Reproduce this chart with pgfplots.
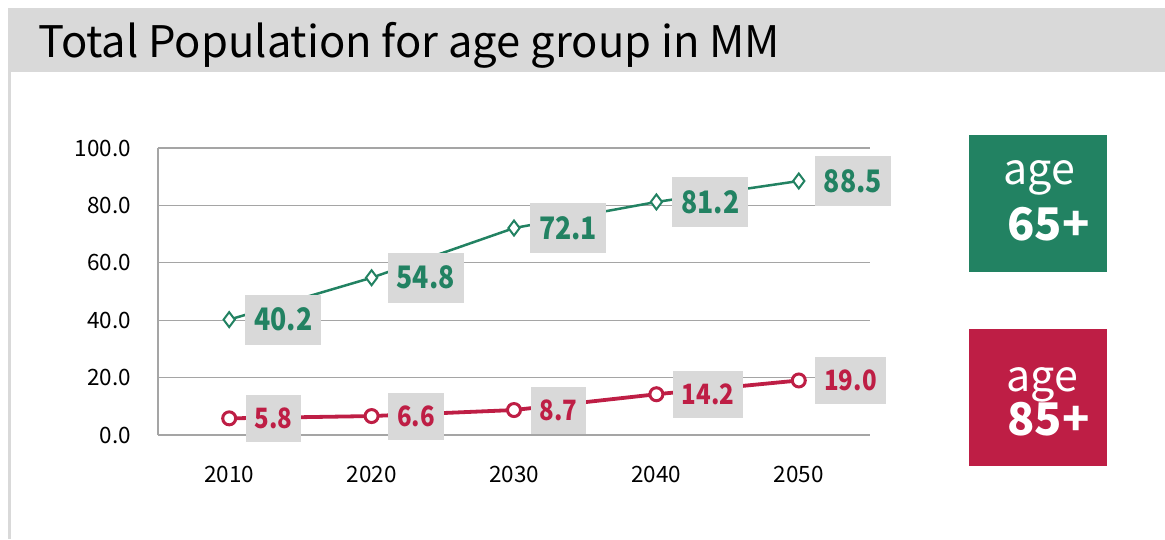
\documentclass[border=0pt]{standalone}
\usepackage{pgfplots}
\pgfplotsset{compat=1.18}
\usepackage{fontspec}
\setmainfont{Noto Sans CJK SC}
\newfontfamily\lblfont[FakeStretch=0.86]{Noto Sans CJK SC}

\definecolor{grn}{RGB}{34,130,98}
\definecolor{rd}{RGB}{190,30,69}
\definecolor{boxgray}{RGB}{217,217,217}
\definecolor{gridgray}{RGB}{165,165,165}

\begin{document}
\begin{tikzpicture}[x=1pt,y=1pt]
\useasboundingbox (0,0) rectangle (1165,539);
% title bar and left rule
\fill[boxgray] (8,467) rectangle (1165,531);
\fill[boxgray] (8,0) rectangle (11,467);
\node[anchor=base west, inner sep=0, font=\fontsize{43.5}{45}\selectfont] at (38,481) {Total Population for age group in MM};

\begin{axis}[
    scale only axis,
    width=712pt, height=287pt,
    at={(158pt,104pt)}, anchor=south west,
    xmin=2005, xmax=2055,
    ymin=0, ymax=100,
    xtick={2010,2020,2030,2040,2050},
    xticklabels={2010,2020,2030,2040,2050},
    ytick={0,20,40,60,80,100},
    axis lines=left,
    axis line style={gridgray, line width=1.3pt, -},
    ymajorgrids=true,
    grid style={gridgray, line width=1.3pt},
    major tick length=0pt,
    tick style={draw=none},
    /pgf/number format/assume math mode=true,
    yticklabel style={font=\fontsize{22.5}{22.5}\selectfont, inner sep=0pt, anchor=east, xshift=-27pt,
        /pgf/number format/.cd, fixed, fixed zerofill, precision=1},
    xticklabel style={font=\fontsize{22.5}{22.5}\selectfont, inner sep=0pt, anchor=north, yshift=-31pt},
    clip=false,
    point meta=y,
    nodes near coords={\pgfmathprintnumber[fixed,fixed zerofill,precision=1]{\pgfplotspointmeta}},
]
\addplot[grn, line width=2.5pt, mark=diamond*, mark size=7.5pt,
    mark options={fill=white, draw=grn, line width=2pt},
    every node near coord/.append style={anchor=west, xshift=15pt, fill=boxgray, text=grn,
        font=\lblfont\bfseries\fontsize{31}{31}\selectfont, inner xsep=9pt, inner ysep=0pt, minimum height=50pt}]
coordinates {(2010,40.2) (2020,54.8) (2030,72.1) (2040,81.2) (2050,88.5)};
\addplot[rd, line width=3.8pt, mark=*, mark size=6.5pt,
    mark options={fill=white, draw=rd, line width=3pt},
    every node near coord/.append style={anchor=west, xshift=15pt, fill=boxgray, text=rd,
        font=\lblfont\bfseries\fontsize{28}{28}\selectfont, inner xsep=9pt, inner ysep=0pt, minimum height=47pt}]
coordinates {(2010,5.8) (2020,6.6) (2030,8.7) (2040,14.2) (2050,19.0)};
\end{axis}

% side keys
\fill[grn] (969,267) rectangle (1107,404);
\node[anchor=base west, inner sep=0, text=white, font=\fontsize{43}{43}\selectfont] at (1003,354) {age};
\node[anchor=base west, inner sep=0, text=white, font=\bfseries\fontsize{45}{45}\selectfont] at (1007,298) {65+};
\fill[rd] (969,73) rectangle (1107,210);
\node[anchor=base west, inner sep=0, text=white, font=\fontsize{43}{43}\selectfont] at (1006,148) {age};
\node[anchor=base west, inner sep=0, text=white, font=\bfseries\fontsize{45}{45}\selectfont] at (1007,104) {85+};
\end{tikzpicture}
\end{document}
